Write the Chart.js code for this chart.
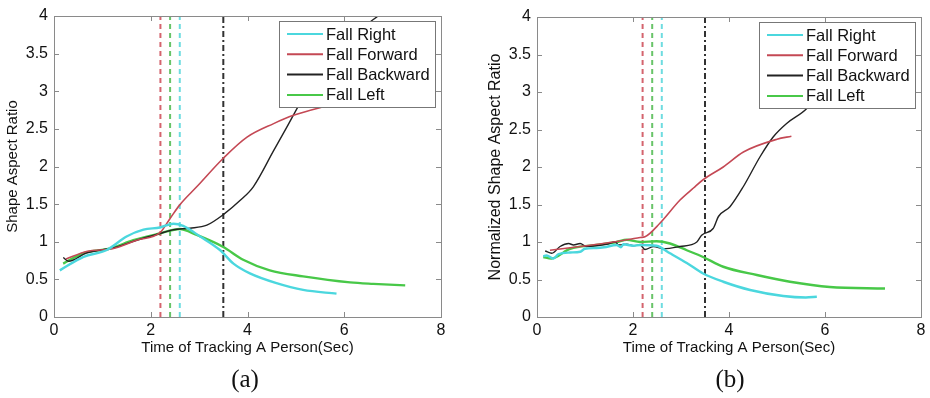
<!DOCTYPE html>
<html>
<head>
<meta charset="utf-8">
<script src="https://cdn.jsdelivr.net/npm/chart.js@4.4.0/dist/chart.umd.min.js"></script>
<style>
  body { margin: 0; background: #fff; width: 930px; height: 398px; position: relative; overflow: hidden; }
  .panel { position: absolute; top: 0; width: 465px; height: 398px; }
  .cap { position: absolute; top: 364px; transform: translateX(-50%); line-height: 30px;
         font-family: "Liberation Serif", "Times New Roman", serif; font-size: 25px; color: #111; }
</style>
</head>
<body>
<div class="panel" style="left:0"><canvas id="chartA" width="465" height="398"></canvas><div class="cap" style="left:245px">(a)</div></div>
<div class="panel" style="left:465px"><canvas id="chartB" width="465" height="398"></canvas><div class="cap" style="left:265px">(b)</div></div>
<script>
// ---- (a) Shape Aspect Ratio ----
const tRightA = [0.12, 0.61, 1.09, 1.50, 1.85, 2.19, 2.47, 2.67, 3.02, 3.43, 3.71, 4.05, 4.60, 5.15, 5.84];
const rightA  = [0.62, 0.80, 0.89, 1.07, 1.16, 1.19, 1.24, 1.21, 1.07, 0.89, 0.71, 0.58, 0.45, 0.36, 0.31];
const tFwdA   = [0.25, 0.67, 1.23, 1.71, 2.19, 2.40, 2.60, 2.95, 3.50, 3.99, 4.54, 4.95, 5.61, 6.00];
const fwdA    = [0.77, 0.87, 0.91, 1.02, 1.12, 1.31, 1.49, 1.73, 2.11, 2.39, 2.57, 2.68, 2.80, 2.86];
const tBackA  = [0.19, 0.30, 0.67, 1.23, 1.71, 2.19, 2.47, 2.81, 3.16, 3.50, 3.85, 4.12, 4.54, 4.81, 5.12, 5.60, 6.20, 6.80];
const backA   = [0.79, 0.74, 0.85, 0.92, 1.02, 1.11, 1.16, 1.18, 1.22, 1.36, 1.55, 1.73, 2.21, 2.52, 2.88, 3.35, 3.75, 4.05];
const tLeftA  = [0.19, 0.61, 1.16, 1.64, 2.19, 2.60, 2.95, 3.50, 3.91, 4.46, 5.15, 6.12, 6.60, 7.26];
const leftA   = [0.71, 0.85, 0.91, 1.02, 1.11, 1.17, 1.09, 0.93, 0.76, 0.62, 0.54, 0.46, 0.44, 0.42];

// ---- (b) Normalized Shape Aspect Ratio ----
const tRightB = [0.13, 0.20, 0.34, 0.45, 0.69, 0.90, 1.00, 1.24, 1.40, 1.66, 1.75, 1.80, 2.00, 2.15, 2.49, 2.77, 3.12, 3.46, 3.88, 4.44, 5.13, 5.60, 5.83];
const rightB  = [0.81, 0.82, 0.78, 0.84, 0.86, 0.87, 0.91, 0.92, 0.93, 0.96, 0.93, 0.97, 0.95, 0.96, 0.95, 0.85, 0.72, 0.58, 0.47, 0.36, 0.28, 0.26, 0.27];
const tFwdB   = [0.27, 0.90, 1.59, 2.15, 2.25, 2.56, 2.98, 3.26, 3.46, 3.88, 4.30, 5.00, 5.30];
const fwdB    = [0.89, 0.94, 1.00, 1.06, 1.07, 1.25, 1.56, 1.72, 1.83, 2.00, 2.20, 2.37, 2.41];
const tBackB  = [0.17, 0.31, 0.48, 0.66, 0.76, 0.90, 1.03, 1.24, 1.45, 1.63, 1.70, 1.87, 2.01, 2.15, 2.25, 2.43, 2.63, 2.98, 3.33, 3.43, 3.67, 3.78, 4.02, 4.30, 4.65, 4.92, 5.20, 5.62, 6.00];
const backB   = [0.88, 0.85, 0.94, 0.98, 0.96, 0.98, 0.94, 0.95, 0.97, 1.00, 0.96, 0.97, 0.95, 0.96, 0.90, 0.94, 0.91, 0.94, 1.00, 1.09, 1.18, 1.34, 1.47, 1.74, 2.14, 2.40, 2.58, 2.78, 3.10];
const tLeftB  = [0.13, 0.30, 0.69, 1.24, 1.66, 1.87, 2.15, 2.49, 2.77, 3.12, 3.46, 3.88, 4.58, 5.27, 6.10, 7.25];
const leftB   = [0.80, 0.78, 0.91, 0.96, 1.00, 1.03, 1.00, 1.01, 0.98, 0.89, 0.80, 0.67, 0.56, 0.47, 0.40, 0.38];

// fall onset markers (same in both panels)
const markerTimes = [2.2, 2.4, 2.6, 3.5];
const seriesNames = ['Fall Right', 'Fall Forward', 'Fall Backward', 'Fall Left'];
const xTicks = [0, 2, 4, 6, 8];
const yTicks = [0, 0.5, 1, 1.5, 2, 2.5, 3, 3.5, 4];

const COLORS = ['rgb(75,215,222)', 'rgb(196,72,84)', 'rgb(34,34,34)', 'rgb(72,200,72)'];
const MARKER_COLORS = ['rgb(212,100,110)', 'rgb(104,196,104)', 'rgb(110,220,224)', 'rgb(50,50,50)'];
const WIDTHS = [2.4, 1.6, 1.4, 2.4];
const FONT = '"Liberation Sans", Arial, sans-serif';

const zip = (xs, ys) => xs.map((x, i) => ({ x: x, y: ys[i] }));

// frame box, inward ticks on all four sides, and a MATLAB style legend
const matlabBox = {
    id: 'matlabBox',
    afterDraw(chart) {
        const { ctx, chartArea: a, scales } = chart;
        ctx.save();
        ctx.strokeStyle = '#8a8a8a';
        ctx.lineWidth = 1;
        ctx.strokeRect(a.left + 0.5, a.top + 0.5, a.right - a.left, a.bottom - a.top);
        ctx.beginPath();
        xTicks.forEach(v => {
            const px = Math.round(scales.x.getPixelForValue(v)) + 0.5;
            ctx.moveTo(px, a.bottom); ctx.lineTo(px, a.bottom - 5);
            ctx.moveTo(px, a.top); ctx.lineTo(px, a.top + 5);
        });
        yTicks.forEach(v => {
            const py = Math.round(scales.y.getPixelForValue(v)) + 0.5;
            ctx.moveTo(a.left, py); ctx.lineTo(a.left + 5, py);
            ctx.moveTo(a.right, py); ctx.lineTo(a.right - 5, py);
        });
        ctx.stroke();

        // legend
        const lx = a.right - 6 - 156, ly = a.top + 5, lw = 156, lh = 86;
        ctx.fillStyle = '#fff';
        ctx.fillRect(lx, ly, lw, lh);
        ctx.strokeStyle = '#777';
        ctx.strokeRect(lx + 0.5, ly + 0.5, lw, lh);
        ctx.font = '16.5px ' + FONT;
        ctx.textBaseline = 'middle';
        ctx.fillStyle = '#111';
        seriesNames.forEach((name, i) => {
            const cy = ly + 13 + i * 20.3;
            ctx.strokeStyle = COLORS[i];
            ctx.lineWidth = 2;
            ctx.beginPath();
            ctx.moveTo(lx + 8, cy); ctx.lineTo(lx + 44, cy);
            ctx.stroke();
            ctx.fillText(name, lx + 47, cy + 1);
        });
        ctx.restore();
    }
};

function makeChart(id, curves, yTitle, yTitleSize, padLeft, yWidth, padTop, padRight) {
    const datasets = curves.map((pts, i) => ({
        label: seriesNames[i],
        data: pts,
        borderColor: COLORS[i],
        borderWidth: WIDTHS[i],
        pointRadius: 0,
        cubicInterpolationMode: 'monotone',
        fill: false
    }));
    markerTimes.forEach((t, i) => {
        datasets.push({
            label: 'onset',
            data: [{ x: t, y: 0 }, { x: t, y: 4 }],
            borderColor: MARKER_COLORS[i],
            borderWidth: 2,
            borderDash: i === 3 ? [6, 3, 2, 3] : [5, 4],
            pointRadius: 0,
            fill: false
        });
    });

    return new Chart(document.getElementById(id), {
        type: 'line',
        data: { datasets },
        options: {
            responsive: false,
            animation: false,
            layout: { padding: { left: padLeft, top: padTop, right: padRight, bottom: 37 } },
            plugins: { legend: { display: false }, tooltip: { enabled: false } },
            scales: {
                x: {
                    type: 'linear', min: 0, max: 8,
                    afterBuildTicks: s => { s.ticks = xTicks.map(v => ({ value: v })); },
                    afterFit: s => { s.height = 44; },
                    grid: { display: false, drawTicks: false },
                    border: { display: false },
                    ticks: { padding: 4, color: '#111', font: { family: FONT, size: 16 }, callback: v => String(v), maxRotation: 0 },
                    title: { display: true, text: 'Time of Tracking A Person(Sec)', color: '#111', font: { family: FONT, size: 15 }, padding: { top: 4, bottom: 4 } }
                },
                y: {
                    min: 0, max: 4,
                    afterBuildTicks: s => { s.ticks = yTicks.map(v => ({ value: v })); },
                    afterFit: s => { s.width = yWidth; },
                    grid: { display: false, drawTicks: false },
                    border: { display: false },
                    ticks: { padding: 6, color: '#111', font: { family: FONT, size: 16 }, callback: v => String(v) },
                    title: { display: true, text: yTitle, color: '#111', font: { family: FONT, size: yTitleSize }, padding: { top: 4, bottom: 4 } }
                }
            }
        },
        plugins: [matlabBox]
    });
}

makeChart('chartA',
    [zip(tRightA, rightA), zip(tFwdA, fwdA), zip(tBackA, backA), zip(tLeftA, leftA)],
    'Shape Aspect Ratio', 15, 0, 54, 16, 24);
makeChart('chartB',
    [zip(tRightB, rightB), zip(tFwdB, fwdB), zip(tBackB, backB), zip(tLeftB, leftB)],
    'Normalized Shape Aspect Ratio', 16, 17, 55, 17, 9);
</script>
</body>
</html>
